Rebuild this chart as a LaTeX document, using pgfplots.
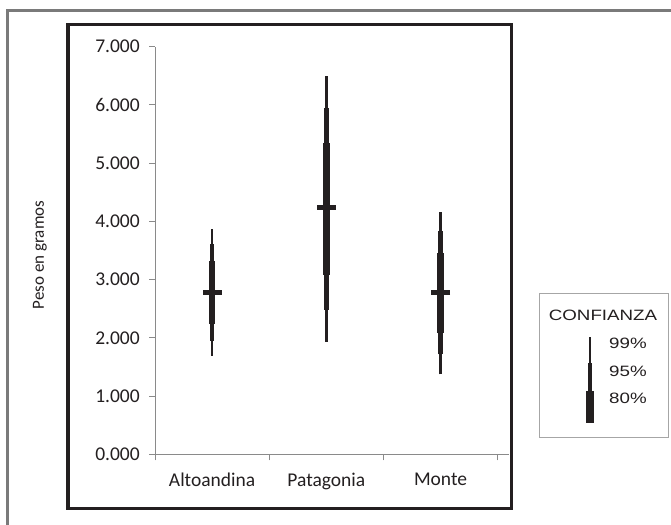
\documentclass[border=0pt]{standalone}
\usepackage{fontspec}
\setmainfont{Carlito}
\newfontfamily\arialf[FakeStretch=1.25]{Liberation Sans}
\usepackage{pgfplots}
\pgfplotsset{compat=1.18}
\definecolor{ink}{HTML}{231F20}
\definecolor{axgray}{HTML}{8A8A8A}
\definecolor{framegray}{HTML}{7A7A7A}
\begin{document}
\begin{tikzpicture}[x=1pt,y=1pt]
\useasboundingbox (0,0) rectangle (671,-524);
\fill[white] (0,0) rectangle (671,-524);
\draw[framegray, line width=3pt] (672,-10.5) -- (7,-10.5) -- (7,-525);
\draw[ink, line width=3.5pt] (68,-24.5) rectangle (511.5,-508.5);
\begin{axis}[
  at={(155pt,-454.3pt)}, anchor=south west,
  scale only axis, width=354.1pt, height=407.6pt,
  xmin=0.5, xmax=3.6, ymin=0, ymax=7000,
  axis lines=left,
  axis line style={draw=axgray, line width=1pt, -},
  xtick={0.5,1.5,2.5,3.5}, xticklabels={,,,},
  extra x ticks={1,2,3},
  extra x tick labels={Altoandina,Patagonia,Monte},
  extra x tick style={major tick length=0pt, tick label style={yshift=-15pt}},
  ytick={0,1000,2000,3000,4000,5000,6000,7000},
  yticklabels={0.000,1.000,2.000,3.000,4.000,5.000,6.000,7.000},
  tick align=outside, major tick length=6pt,
  tick style={draw=axgray, line width=1pt},
  tick label style={font=\fontsize{19.5}{22}\selectfont, text=ink},
  yticklabel style={xshift=-5.7pt},
  clip=false,
]
% 99% intervals
\addplot[ink, line width=2.6pt, line cap=butt, unbounded coords=jump, mark=none]
  coordinates {(1,1689) (1,3866) (1,nan) (2,1935) (2,6500) (2,nan) (3,1374) (3,4168)};
% 95% intervals
\addplot[ink, line width=4.5pt, line cap=butt, unbounded coords=jump, mark=none]
  coordinates {(1,1952) (1,3608) (1,nan) (2,2479) (2,5955) (2,nan) (3,1718) (3,3831)};
% 80% intervals
\addplot[ink, line width=6.5pt, line cap=butt, unbounded coords=jump, mark=none]
  coordinates {(1,2234) (1,3321) (1,nan) (2,3081) (2,5354) (2,nan) (3,2079) (3,3464)};
% medians
\addplot[ink, only marks, mark=-, mark size=9.5pt, mark options={line width=4.7pt, line cap=butt}]
  coordinates {(1,2783) (2,4237) (3,2783)};
\end{axis}
% y axis label
\node[rotate=90, text=ink, font=\fontsize{17}{20}\selectfont, inner sep=0pt] at (40,-255) {Peso en gramos};
% legend
\draw[gray!70, line width=0.8pt] (539.5,-293.5) rectangle (668,-437);
\node[font=\arialf\fontsize{15}{18}\selectfont, text=ink] at (603,-315) {CONFIANZA};
\draw[ink, line width=2pt] (590,-337) -- (590,-363);
\draw[ink, line width=4.5pt] (590,-363) -- (590,-391);
\draw[ink, line width=8pt] (590,-391) -- (590,-423);
\node[font=\arialf\fontsize{15}{18}\selectfont, text=ink, anchor=west, inner sep=0pt] at (609,-343) {99\%};
\node[font=\arialf\fontsize{15}{18}\selectfont, text=ink, anchor=west, inner sep=0pt] at (609,-371) {95\%};
\node[font=\arialf\fontsize{15}{18}\selectfont, text=ink, anchor=west, inner sep=0pt] at (609,-398) {80\%};
\end{tikzpicture}
\end{document}
